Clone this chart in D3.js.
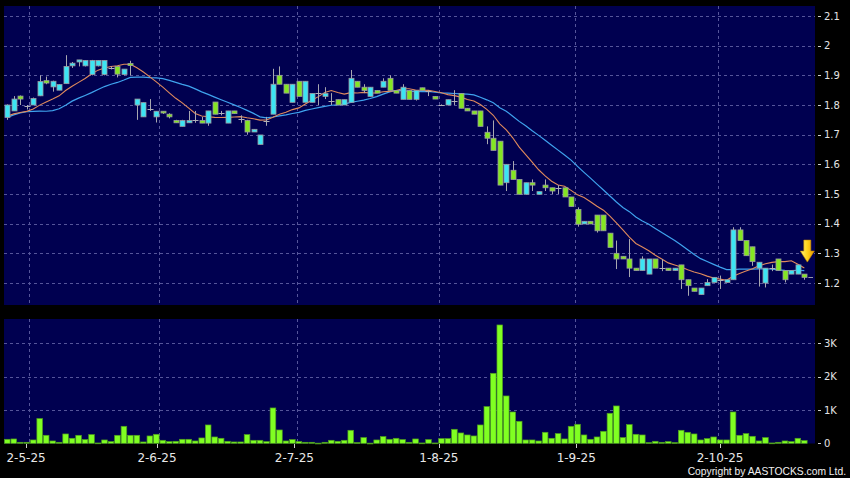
<!DOCTYPE html>
<html><head><meta charset="utf-8">
<script src="https://cdn.jsdelivr.net/npm/d3@7"></script>
<style>html,body{margin:0;padding:0;background:#000;}svg{display:block}</style>
</head><body>
<script>
// ---- data ----
const opens = [1.758,1.78,1.83,1.795,1.80,1.831,1.882,1.861,1.85,1.872,
1.932,1.945,1.932,1.903,1.932,1.903,1.925,1.93,1.903,1.94,
1.80,1.76,1.788,1.76,1.779,1.769,1.748,1.728,1.74,1.748,
1.748,1.739,1.81,1.772,1.739,1.78,1.752,1.748,1.709,1.667,
1.746,1.769,1.90,1.87,1.809,1.88,1.809,1.809,1.839,1.829,
1.813,1.818,1.80,1.809,1.88,1.86,1.829,1.849,1.86,1.89,
1.849,1.819,1.849,1.819,1.858,1.847,1.829,1.80,1.80,1.815,
1.839,1.789,1.78,1.78,1.708,1.688,1.678,1.538,1.58,1.549,
1.499,1.538,1.499,1.53,1.521,1.519,1.521,1.49,1.448,1.399,
1.408,1.429,1.429,1.368,1.30,1.29,1.281,1.25,1.242,1.23,
1.281,1.25,1.25,1.242,1.261,1.211,1.183,1.161,1.191,1.202,
1.21,1.202,1.211,1.379,1.343,1.322,1.25,1.20,1.25,1.281,
1.242,1.23,1.23,1.23];
const highs = [1.802,1.83,1.832,1.80,1.825,1.90,1.896,1.882,1.87,1.968,
1.945,1.952,1.95,1.952,1.95,1.95,1.93,1.93,1.921,1.949,
1.82,1.808,1.82,1.779,1.779,1.772,1.75,1.75,1.78,1.78,
1.76,1.78,1.81,1.78,1.78,1.78,1.765,1.75,1.718,1.699,
1.76,1.922,1.93,1.87,1.87,1.88,1.88,1.839,1.87,1.86,
1.84,1.818,1.818,1.918,1.88,1.87,1.86,1.849,1.89,1.90,
1.85,1.87,1.849,1.849,1.858,1.85,1.829,1.802,1.818,1.85,
1.839,1.789,1.78,1.78,1.728,1.748,1.678,1.60,1.611,1.549,
1.538,1.549,1.508,1.549,1.521,1.53,1.521,1.49,1.455,1.408,
1.408,1.429,1.429,1.368,1.343,1.29,1.348,1.25,1.29,1.281,
1.281,1.281,1.25,1.25,1.261,1.211,1.183,1.183,1.213,1.219,
1.225,1.211,1.388,1.388,1.343,1.322,1.27,1.25,1.262,1.281,
1.242,1.242,1.261,1.23];
const lows = [1.75,1.78,1.80,1.785,1.80,1.83,1.87,1.845,1.85,1.872,
1.925,1.93,1.93,1.90,1.93,1.90,1.92,1.893,1.90,1.90,
1.75,1.76,1.78,1.741,1.77,1.755,1.74,1.728,1.74,1.74,
1.739,1.73,1.769,1.765,1.739,1.77,1.74,1.70,1.709,1.667,
1.73,1.769,1.87,1.84,1.809,1.829,1.809,1.809,1.80,1.82,
1.80,1.80,1.80,1.809,1.86,1.84,1.829,1.84,1.86,1.849,
1.84,1.819,1.819,1.815,1.849,1.83,1.82,1.80,1.80,1.80,
1.789,1.78,1.769,1.728,1.668,1.647,1.53,1.51,1.549,1.499,
1.499,1.51,1.499,1.51,1.50,1.50,1.49,1.458,1.39,1.399,
1.399,1.37,1.376,1.32,1.247,1.281,1.22,1.242,1.242,1.23,
1.25,1.24,1.242,1.242,1.18,1.157,1.172,1.161,1.191,1.202,
1.18,1.202,1.211,1.343,1.292,1.258,1.188,1.185,1.24,1.242,
1.202,1.23,1.23,1.211];
const closes = [1.80,1.82,1.82,1.795,1.822,1.879,1.874,1.88,1.869,1.93,
1.941,1.952,1.95,1.95,1.95,1.95,1.925,1.904,1.921,1.933,
1.82,1.808,1.788,1.779,1.773,1.76,1.74,1.748,1.748,1.748,
1.739,1.78,1.769,1.772,1.78,1.771,1.752,1.709,1.718,1.699,
1.746,1.87,1.87,1.84,1.87,1.829,1.88,1.839,1.839,1.839,
1.813,1.80,1.818,1.89,1.86,1.849,1.86,1.84,1.88,1.849,
1.84,1.86,1.819,1.849,1.849,1.847,1.82,1.80,1.818,1.815,
1.789,1.78,1.769,1.728,1.688,1.647,1.53,1.60,1.549,1.499,
1.538,1.53,1.508,1.521,1.51,1.519,1.49,1.458,1.398,1.408,
1.399,1.376,1.376,1.32,1.281,1.281,1.25,1.242,1.281,1.281,
1.25,1.25,1.242,1.25,1.211,1.191,1.172,1.183,1.202,1.219,
1.21,1.211,1.379,1.343,1.292,1.272,1.27,1.25,1.25,1.242,
1.211,1.242,1.261,1.219];
// closes before the visible window (estimated from where the moving averages start)
const priorCloses = [1.66,1.68,1.72,1.80,1.86,1.88,1.84,1.74,1.70,1.66,
1.75,1.77,1.76,1.74,1.75,1.77,1.78,1.76,1.75];
const volumes = [120,130,30,30,100,740,240,70,30,280,
150,240,110,260,10,100,50,240,510,240,
240,40,220,270,90,50,60,120,120,70,
160,550,190,150,60,40,40,260,90,90,
50,1060,400,70,110,50,30,30,5,30,
90,60,90,390,20,170,5,100,200,120,
150,110,30,130,10,110,10,140,140,420,
310,250,220,550,1100,2100,3550,1420,940,660,
100,100,70,330,150,290,130,510,570,250,
120,190,360,900,1120,170,560,270,250,20,
60,30,50,20,390,330,280,100,140,190,
100,100,940,240,290,210,70,170,10,30,
70,50,150,80];
const xTickLabels = ["2-5-25","2-6-25","2-7-25","1-8-25","1-9-25","2-10-25"];
const xTickIdx = [2.9,23.1,44.3,66.6,87.8,110.0];
const xGridIdx = [3.4,23.4,44.7,66.6,87.6,109.7];
const priceTicks = [1.2,1.3,1.4,1.5,1.6,1.7,1.8,1.9,2.0,2.1];
const priceTickLabels = ["1.2","1.3","1.4","1.5","1.6","1.7","1.8","1.9","2","2.1"];
const volTicks = [0,1000,2000,3000];
const volTickLabels = ["0","1K","2K","3K"];
const copyright = "Copyright by AASTOCKS.com Ltd.";

// ---- chart ----
const N = closes.length;
const W = 850, H = 478;
const svg = d3.select("body").append("svg").attr("width", W).attr("height", H)
  .style("background", "#000");

const P = {left: 4, right: 815, top: 6, bottom: 305};
const V = {left: 4, right: 815, top: 319, bottom: 443.5};
const x = d3.scaleLinear().domain([-0.5, N - 0.5]).range([4.05, 4.05 + N * 6.48]);
const y = d3.scaleLinear().domain([1.2, 2.1]).range([283, 16]);
const yv = d3.scaleLinear().domain([0, 3000]).range([443.3, 343.3]);

const NAVY = "#000050", GRID = "#55559a";
const CYAN = "#3ce4f4", GREEN = "#84e622", EDGE = "#9a9aa0";

// panels
svg.append("rect").attr("x", P.left).attr("y", P.top).attr("width", P.right - P.left)
  .attr("height", P.bottom - P.top).attr("fill", NAVY);
svg.append("rect").attr("x", V.left).attr("y", V.top).attr("width", V.right - V.left)
  .attr("height", V.bottom - V.top).attr("fill", NAVY);

const crisp = v => Math.round(v) + 0.5;
const grid = svg.append("g").attr("stroke", GRID).attr("stroke-width", 1)
  .attr("stroke-dasharray", "3,3").attr("fill", "none");
priceTicks.forEach(t => grid.append("line").attr("x1", P.left).attr("x2", P.right)
  .attr("y1", crisp(y(t))).attr("y2", crisp(y(t))));
volTicks.filter(t => t > 0).forEach(t => grid.append("line").attr("x1", V.left).attr("x2", V.right)
  .attr("y1", crisp(yv(t))).attr("y2", crisp(yv(t))));
xGridIdx.forEach(g => {
  grid.append("line").attr("x1", crisp(x(g))).attr("x2", crisp(x(g))).attr("y1", P.top).attr("y2", P.bottom);
  grid.append("line").attr("x1", crisp(x(g))).attr("x2", crisp(x(g))).attr("y1", V.top).attr("y2", V.bottom);
});

// moving averages
const allCloses = priorCloses.concat(closes);
const ma = (n) => closes.map((c, i) => {
  const end = i + priorCloses.length + 1;
  return d3.mean(allCloses.slice(end - n, end));
});
const ma10 = ma(10), ma20 = ma(20);
const line = d3.line().x((d, i) => x(i)).y(d => y(d));
svg.append("path").datum(ma20).attr("d", line).attr("fill", "none")
  .attr("stroke", "#3fa3ee").attr("stroke-width", 1.2);
svg.append("path").datum(ma10).attr("d", line).attr("fill", "none")
  .attr("stroke", "#e08a5c").attr("stroke-width", 1.1);

// candles
const bw = 5;
const cg = svg.append("g");
d3.range(N).forEach(i => {
  const o = opens[i], c = closes[i], h = highs[i], l = lows[i];
  const cx = Math.round(x(i)) + 0.5;
  cg.append("line").attr("x1", cx).attr("x2", cx).attr("y1", y(h)).attr("y2", y(l))
    .attr("stroke", "#a8a8b0").attr("stroke-width", 1);
  if (o === c) {
    cg.append("line").attr("x1", cx - 3).attr("x2", cx + 3).attr("y1", crisp(y(c))).attr("y2", crisp(y(c)))
      .attr("stroke", "#b0b0b8").attr("stroke-width", 1);
  } else {
    const top = y(Math.max(o, c)), bot = y(Math.min(o, c));
    cg.append("rect").attr("x", cx - bw / 2).attr("y", top).attr("width", bw)
      .attr("height", Math.max(1.5, bot - top))
      .attr("fill", c > o ? CYAN : GREEN).attr("stroke", EDGE).attr("stroke-width", 0.8);
  }
});

// last price marker
svg.append("line").attr("x1", x(N - 1) + 4).attr("x2", P.right - 2)
  .attr("y1", crisp(y(closes[N - 1]))).attr("y2", crisp(y(closes[N - 1])))
  .attr("stroke", "#9a9aa8").attr("stroke-width", 1);

// arrow
const defs = svg.append("defs");
const grad = defs.append("linearGradient").attr("id", "ag").attr("x1", "0").attr("x2", "1").attr("y1", "0").attr("y2", "0");
grad.append("stop").attr("offset", "0").attr("stop-color", "#fff27a");
grad.append("stop").attr("offset", "0.5").attr("stop-color", "#ffd21a");
grad.append("stop").attr("offset", "1").attr("stop-color", "#e79400");
const ax = x(N - 1) + 3, tip = y(highs[N - 1]) - 12;
svg.append("path")
  .attr("d", `M${ax - 3.5},${tip - 22} L${ax + 3.5},${tip - 22} L${ax + 3.5},${tip - 11} L${ax + 7},${tip - 11} L${ax},${tip} L${ax - 7},${tip - 11} L${ax - 3.5},${tip - 11} Z`)
  .attr("fill", "url(#ag)").attr("stroke", "#c88a00").attr("stroke-width", 0.6);

// volume bars
const vw = 5.6;
svg.append("g").selectAll("rect").data(volumes).join("rect")
  .attr("x", (d, i) => x(i) - vw / 2)
  .attr("y", d => yv(d))
  .attr("width", vw)
  .attr("height", d => Math.max(0.8, yv(0) - yv(d)))
  .attr("fill", "#80ff22").attr("stroke", "#4f9e1e").attr("stroke-width", 0.7);

// right axes
const FONT = "DejaVu Sans";
const ra = svg.append("g").attr("font-family", FONT).attr("font-size", 10).attr("fill", "#e4e4e4");
priceTicks.forEach((t, k) => {
  ra.append("line").attr("x1", 818).attr("x2", 821).attr("y1", crisp(y(t))).attr("y2", crisp(y(t)))
    .attr("stroke", "#cfcfcf");
  ra.append("text").attr("x", 824).attr("y", y(t)).attr("dy", "0.36em").text(priceTickLabels[k]);
});
volTicks.forEach((t, k) => {
  ra.append("line").attr("x1", 818).attr("x2", 821).attr("y1", crisp(yv(t))).attr("y2", crisp(yv(t)))
    .attr("stroke", "#cfcfcf");
  ra.append("text").attr("x", 824).attr("y", yv(t)).attr("dy", "0.36em").text(volTickLabels[k]);
});

// bottom axis
const ba = svg.append("g").attr("font-family", FONT).attr("font-size", 12).attr("fill", "#e8e8e8");
xTickIdx.forEach((t, k) => {
  ba.append("line").attr("x1", crisp(x(t))).attr("x2", crisp(x(t))).attr("y1", 444).attr("y2", 448)
    .attr("stroke", "#cfcfcf");
  ba.append("text").attr("x", x(t)).attr("y", 461.5).attr("text-anchor", "middle").text(xTickLabels[k]);
});

svg.append("text").attr("x", 846).attr("y", 474.5).attr("text-anchor", "end")
  .attr("font-family", "Liberation Sans").attr("font-size", 10.3).attr("fill", "#f0f0f0")
  .text(copyright);
</script>
</body></html>
